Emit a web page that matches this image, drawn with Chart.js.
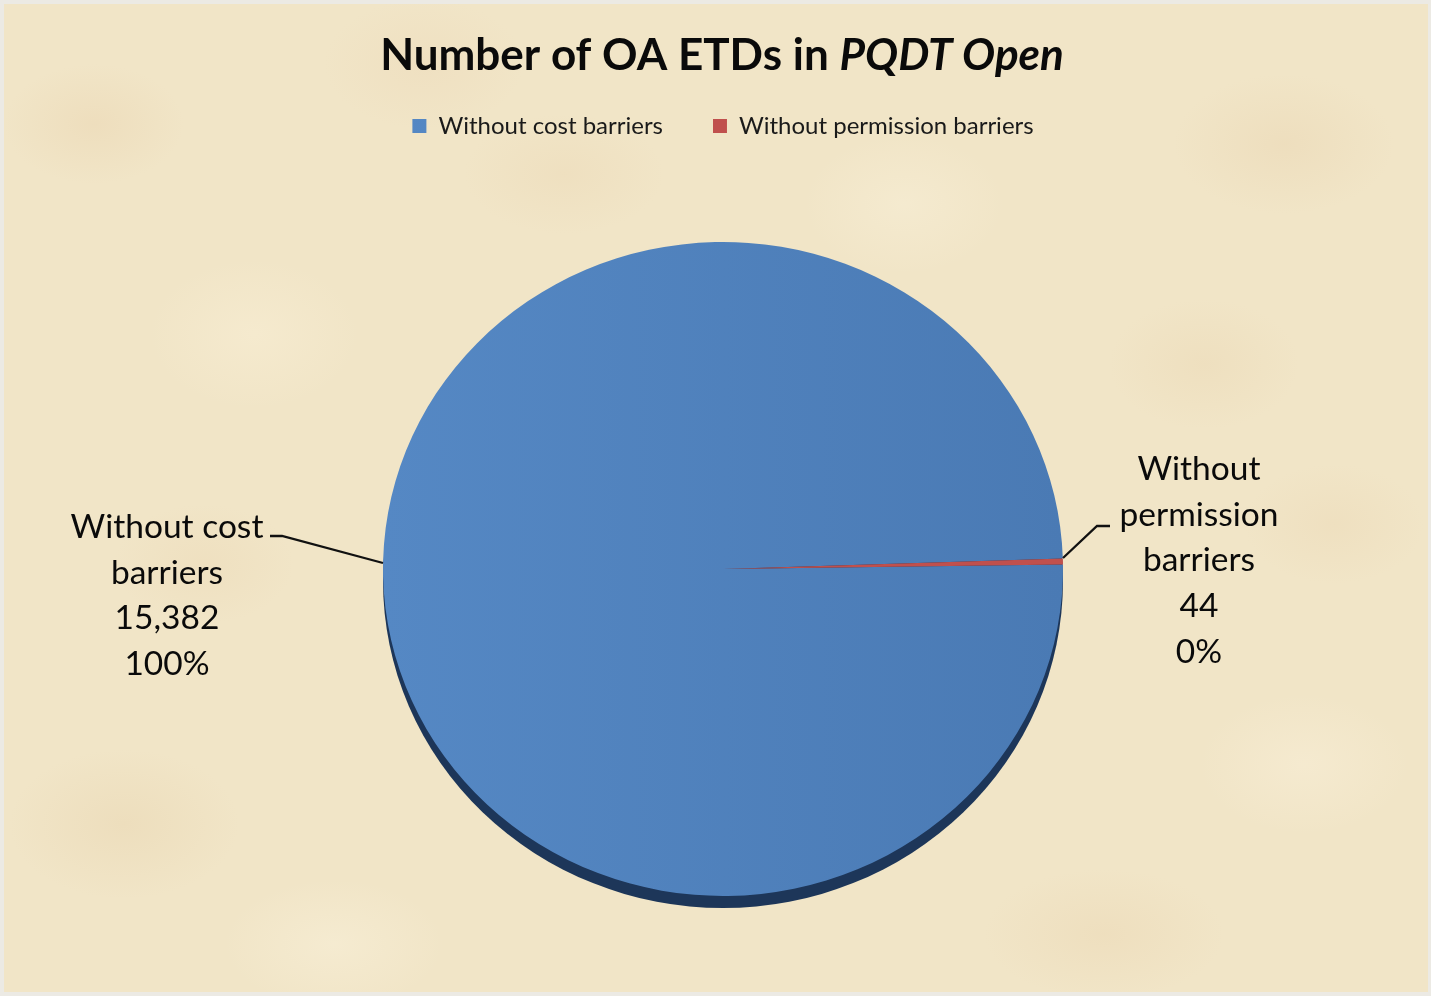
<!DOCTYPE html>
<html>
<head>
<meta charset="utf-8">
<script src="https://cdn.jsdelivr.net/npm/chart.js@4.4.0/dist/chart.umd.min.js"></script>
<style>
html,body{margin:0;padding:0;width:1431px;height:996px;overflow:hidden;background:#eceae4;}
#bg{position:absolute;left:4px;top:4px;width:1424px;height:988px;
 background:
  radial-gradient(ellipse 90px 60px at 90px 120px, rgba(232,208,170,0.35), rgba(232,208,170,0) 100%),
  radial-gradient(ellipse 100px 65px at 420px 60px, rgba(235,212,178,0.3), rgba(235,212,178,0) 100%),
  radial-gradient(ellipse 110px 70px at 1280px 140px, rgba(230,206,168,0.3), rgba(230,206,168,0) 100%),
  radial-gradient(ellipse 105px 75px at 250px 330px, rgba(250,240,215,0.45), rgba(250,240,215,0) 100%),
  radial-gradient(ellipse 95px 65px at 1200px 360px, rgba(232,210,172,0.3), rgba(232,210,172,0) 100%),
  radial-gradient(ellipse 115px 75px at 120px 820px, rgba(228,205,165,0.3), rgba(228,205,165,0) 100%),
  radial-gradient(ellipse 105px 70px at 1300px 760px, rgba(250,240,218,0.45), rgba(250,240,218,0) 100%),
  radial-gradient(ellipse 120px 65px at 1100px 930px, rgba(232,208,170,0.3), rgba(232,208,170,0) 100%),
  radial-gradient(ellipse 110px 65px at 330px 940px, rgba(250,242,220,0.45), rgba(250,242,220,0) 100%),
  radial-gradient(ellipse 100px 70px at 900px 200px, rgba(250,242,220,0.4), rgba(250,242,220,0) 100%),
  radial-gradient(ellipse 90px 60px at 200px 560px, rgba(232,208,170,0.25), rgba(232,208,170,0) 100%),
  radial-gradient(ellipse 90px 60px at 1330px 520px, rgba(232,208,170,0.25), rgba(232,208,170,0) 100%),
  radial-gradient(ellipse 100px 60px at 560px 170px, rgba(232,208,170,0.25), rgba(232,208,170,0) 100%),
  #f1e5c7;}
#wrap{position:absolute;left:0;top:0;width:1431px;height:996px;}
</style>
</head>
<body>
<div id="bg"></div>
<div id="wrap"><canvas id="c" width="1431" height="996"></canvas></div>
<script>
// ---- data ----
const categories = ['Without cost barriers', 'Without permission barriers'];
const labelLines = [['Without cost', 'barriers'], ['Without', 'permission', 'barriers']];
const values = [15382, 44];
const titleMain = 'Number of OA ETDs in ';
const titleItalic = 'PQDT Open';

const FONT = 'Lato, "Open Sans", sans-serif';
const SY = 327 / 340; // vertical squash of the pie face
const total = values.reduce((a, b) => a + b, 0);

const squashPlugin = {
  id: 'squash',
  beforeDatasetsDraw(chart) {
    const arc = chart.getDatasetMeta(0).data[0];
    const ctx = chart.ctx;
    ctx.save();
    ctx.translate(arc.x, arc.y);
    ctx.scale(1, SY);
    ctx.translate(-arc.x, -arc.y);
    // side / depth of the 3D pie, from the arc geometry
    ctx.beginPath();
    ctx.arc(arc.x, arc.y + 12 / SY, arc.outerRadius, 0, Math.PI * 2);
    ctx.fillStyle = '#1d3659';
    ctx.fill();
  },
  afterDatasetsDraw(chart) {
    chart.ctx.restore();
  }
};

const labelPlugin = {
  id: 'extLabels',
  afterDraw(chart) {
    const ctx = chart.ctx;
    const arc0 = chart.getDatasetMeta(0).data[0];
    const cx = arc0.x, cy = arc0.y, r = arc0.outerRadius;
    // title
    ctx.save();
    ctx.fillStyle = '#0a0a0a';
    ctx.textBaseline = 'middle';
    ctx.font = 'bold 44px ' + FONT;
    const w1 = ctx.measureText(titleMain).width;
    ctx.font = 'italic bold 44px ' + FONT;
    const w2 = ctx.measureText(titleItalic).width;
    let tx = 722 - (w1 + w2) / 2;
    ctx.textAlign = 'left';
    ctx.font = 'bold 44px ' + FONT;
    ctx.fillText(titleMain, tx, 56);
    ctx.font = 'italic bold 44px ' + FONT;
    ctx.fillText(titleItalic, tx + w1, 56);

    // data labels with leader lines
    const place = [
      {anchor: [-r, -6], elbow: [-441, -33], end: [-453, -33], text: [-556, -42]},
      {anchor: [r, -11], elbow: [374, -43], end: [387, -43], text: [476, -100]}
    ];
    ctx.strokeStyle = '#111';
    ctx.lineWidth = 2.3;
    ctx.font = '33.5px ' + FONT;
    ctx.textAlign = 'center';
    values.forEach((v, i) => {
      const p = place[i];
      ctx.beginPath();
      ctx.moveTo(cx + p.anchor[0], cy + p.anchor[1]);
      ctx.lineTo(cx + p.elbow[0], cy + p.elbow[1]);
      ctx.lineTo(cx + p.end[0], cy + p.end[1]);
      ctx.stroke();
      const lines = labelLines[i].concat([v.toLocaleString('en-US'), Math.round(v / total * 100) + '%']);
      lines.forEach((s, k) => {
        ctx.fillText(s, cx + p.text[0], cy + p.text[1] + k * 45.8);
      });
    });
    ctx.restore();
  }
};

new Chart(document.getElementById('c'), {
  type: 'pie',
  data: {
    labels: categories,
    datasets: [{
      data: values,
      radius: 340,
      borderWidth: 0,
      backgroundColor: (c) => {
        if (c.dataIndex === 1) return '#c0504d';
        const a = c.chart.chartArea;
        if (!a) return '#4f81bd';
        const g = c.chart.ctx.createLinearGradient(383, 0, 1063, 0);
        g.addColorStop(0, '#5588c4');
        g.addColorStop(1, '#4a7ab4');
        return g;
      }
    }]
  },
  options: {
    responsive: false,
    animation: false,
    rotation: 89.2,
    layout: {padding: {top: 64, bottom: 6, left: 15, right: 0}},
    plugins: {
      title: {display: false},
      tooltip: {enabled: false},
      legend: {
        position: 'top',
        labels: {
          font: {family: FONT, size: 24},
          color: '#1a1a1a',
          boxWidth: 14,
          boxHeight: 14,
          padding: 50
        }
      }
    }
  },
  plugins: [squashPlugin, labelPlugin]
});
</script>
</body>
</html>
